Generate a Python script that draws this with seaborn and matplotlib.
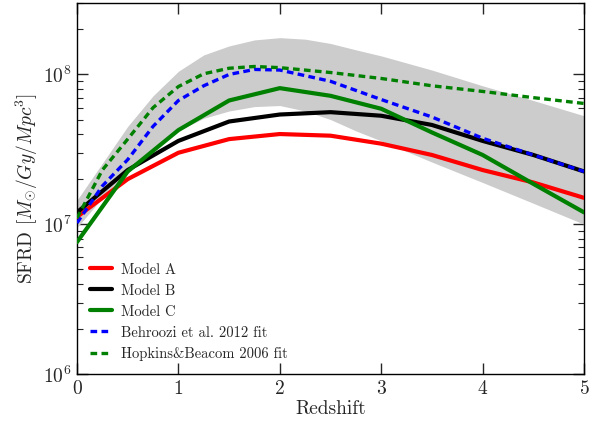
import numpy as np
import pandas as pd
import matplotlib
matplotlib.use("Agg")
import matplotlib.pyplot as plt
import seaborn as sns

# values (SFRD in Msun/Gyr/Mpc^3)
z_model = [0, 0.5, 1, 1.5, 2, 2.5, 3, 3.5, 4, 4.5, 5]
model_a = [1.12e7, 2.0e7, 3.0e7, 3.7e7, 4.0e7, 3.9e7, 3.45e7, 2.9e7, 2.3e7, 1.9e7, 1.5e7]
model_b = [1.2e7, 2.3e7, 3.6e7, 4.85e7, 5.4e7, 5.6e7, 5.3e7, 4.6e7, 3.6e7, 2.9e7, 2.25e7]
model_c = [7.6e6, 2.25e7, 4.25e7, 6.7e7, 8.1e7, 7.2e7, 5.9e7, 4.1e7, 2.9e7, 1.86e7, 1.2e7]

z_fit = [0, 0.25, 0.5, 0.75, 1, 1.25, 1.5, 1.75, 2, 2.5, 3, 3.5, 4, 4.5, 5]
behroozi = [1.02e7, 1.8e7, 2.7e7, 4.5e7, 6.7e7, 8.4e7, 1.0e8, 1.08e8, 1.07e8,
            9.0e7, 6.8e7, 5.2e7, 3.75e7, 2.9e7, 2.25e7]
hopkins = [1.1e7, 2.3e7, 3.7e7, 6.0e7, 8.3e7, 1.01e8, 1.1e8, 1.13e8, 1.11e8,
           1.03e8, 9.4e7, 8.4e7, 7.7e7, 7.0e7, 6.4e7]

z_band = [0, 0.25, 0.5, 0.75, 1, 1.25, 1.5, 1.75, 2, 2.25, 2.5, 2.75, 3,
          3.5, 4, 4.5, 5]
band_hi = [1.45e7, 2.55e7, 4.5e7, 7.2e7, 1.05e8, 1.35e8, 1.55e8, 1.7e8, 1.76e8,
           1.72e8, 1.61e8, 1.46e8, 1.33e8, 1.07e8, 8.4e7, 6.7e7, 5.3e7]
band_lo = [9.5e6, 1.5e7, 2.2e7, 3.2e7, 4.2e7, 5.1e7, 5.7e7, 6.1e7, 6.2e7,
           5.7e7, 5.0e7, 4.2e7, 3.6e7, 2.6e7, 1.9e7, 1.38e7, 1.0e7]

sns.set_style("ticks")
plt.rcParams['font.family'] = 'serif'
plt.rcParams['font.serif'] = ['cmr10']
plt.rcParams['mathtext.fontset'] = 'cm'
plt.rcParams['axes.formatter.use_mathtext'] = True
plt.rcParams['axes.unicode_minus'] = False

fig = plt.figure(figsize=(6.03, 4.25), dpi=100)
ax = fig.add_axes([0.1277, 0.1200, 0.8408, 0.8730])

ax.fill_between(z_band, band_lo, band_hi, color='0.8', lw=0, zorder=1)

models = pd.DataFrame({'z': z_model, 'A': model_a, 'B': model_b, 'C': model_c})
fits = pd.DataFrame({'z': z_fit, 'behroozi': behroozi, 'hopkins': hopkins})

sns.lineplot(data=models, x='z', y='A', ax=ax, color='red', lw=3, label='Model A', zorder=3)
sns.lineplot(data=models, x='z', y='B', ax=ax, color='black', lw=3, label='Model B', zorder=3)
sns.lineplot(data=models, x='z', y='C', ax=ax, color='green', lw=3, label='Model C', zorder=3)
sns.lineplot(data=fits, x='z', y='behroozi', ax=ax, color='blue', lw=2.4,
             linestyle=(0, (2.0, 1.3)), label='Behroozi et al. 2012 fit', zorder=4)
sns.lineplot(data=fits, x='z', y='hopkins', ax=ax, color='green', lw=2.4,
             linestyle=(0, (2.0, 1.3)), label='Hopkins&Beacom 2006 fit', zorder=4)

ax.set_yscale('log')
ax.set_xlim(0, 5)
ax.set_ylim(1e6, 3e8)
ax.set_xticks([0, 1, 2, 3, 4, 5])
ax.set_xlabel('Redshift', fontsize=14, labelpad=2)
ax.set_ylabel(r'SFRD $[M_{\odot}/Gy/Mpc^3]$', fontsize=14, labelpad=2)

ax.tick_params(which='both', direction='in', top=True, right=True, labelsize=14)
ax.tick_params(which='major', length=8, width=1, pad=4)
ax.tick_params(which='minor', length=4, width=0.8)
ax.tick_params(axis='x', which='minor', bottom=False, top=False)
for sp in ax.spines.values():
    sp.set_linewidth(1.0)
    sp.set_color('black')

ax.legend(loc='lower left', frameon=False, fontsize=10.5, handlelength=1.5,
          handletextpad=0.6, labelspacing=0.5)

plt.savefig('out.png', dpi=100)
